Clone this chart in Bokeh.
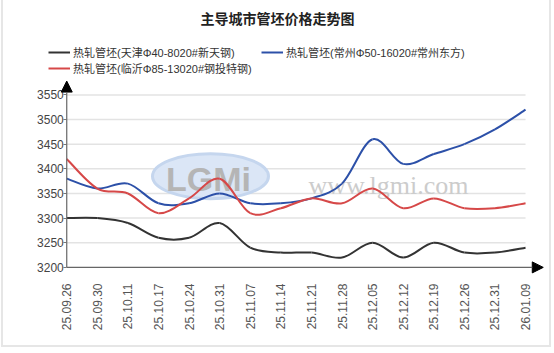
import numpy as np
from bokeh.plotting import figure
from bokeh.models import (ColumnDataSource, FixedTicker, Legend, LegendItem, Label,
                          Arrow, NormalHead, Range1d)
from bokeh.embed import file_html
from bokeh.resources import INLINE

# ---------------- data ----------------
dates = ["25.09.26", "25.09.30", "25.10.11", "25.10.17", "25.10.24", "25.10.31",
         "25.11.07", "25.11.14", "25.11.21", "25.11.28", "25.12.05", "25.12.12",
         "25.12.19", "25.12.26", "25.12.31", "26.01.09"]
tianjin = [3300, 3300, 3290, 3260, 3260, 3290, 3240, 3230, 3230, 3220, 3250, 3220,
           3250, 3230, 3230, 3240]
changzhou = [3380, 3360, 3370, 3330, 3330, 3350, 3330, 3330, 3340, 3370, 3460, 3410,
             3430, 3450, 3480, 3520]
linyi = [3420, 3360, 3350, 3310, 3340, 3380, 3310, 3320, 3340, 3330, 3360, 3320,
         3340, 3320, 3320, 3330]
y_ticks = [3200, 3250, 3300, 3350, 3400, 3450, 3500, 3550]
series_names = ["热轧管坯(天津Φ40-8020#新天钢)", "热轧管坯(常州Φ50-16020#常州东方)",
                "热轧管坯(临沂Φ85-13020#钢投特钢)"]
title_text = "主导城市管坯价格走势图"

LAT = "Liberation Sans"
MIX = "Liberation Sans, Noto Sans CJK SC"


def bezier_source(ys):
    n = len(ys)
    xs = list(range(n))
    d = dict(x0=[], y0=[], x1=[], y1=[], cx0=[], cy0=[], cx1=[], cy1=[])
    for i in range(n - 1):
        a = max(i - 1, 0)
        b = min(i + 2, n - 1)
        d["x0"].append(xs[i]); d["y0"].append(ys[i])
        d["x1"].append(xs[i + 1]); d["y1"].append(ys[i + 1])
        d["cx0"].append(xs[i] + (xs[i + 1] - xs[a]) / 6.0)
        d["cy0"].append(ys[i] + (ys[i + 1] - ys[a]) / 6.0)
        d["cx1"].append(xs[i + 1] - (xs[b] - xs[i]) / 6.0)
        d["cy1"].append(ys[i + 1] - (ys[b] - ys[i]) / 6.0)
    return ColumnDataSource(d)


n = len(dates)
# canvas starts at page (3,3) inside a light border; frame (page px): left 35, right 549,
# top 3, bottom 275
PXX = 30.35   # px per category
PXY = 0.4857  # px per price unit
FL, FB = 35, 275
x0r = -(66 - FL) / PXX
y0r = 3200 - (FB - 267) / PXY
p = figure(width=546, height=346, output_backend="svg", toolbar_location=None,
           title=None,
           x_range=Range1d(x0r, x0r + (549 - FL) / PXX),
           y_range=Range1d(y0r, y0r + (FB - 3) / PXY),
           min_border_left=FL - 3, min_border_right=0, min_border_top=0,
           min_border_bottom=349 - FB)
p.styles = {"margin": "-3px 1px 1px 1px", "border": "2px solid #e6e6e6",
            "box-sizing": "content-box"}
p.background_fill_color = "white"
p.border_fill_color = "white"
p.outline_line_color = None
p.xgrid.grid_line_color = None
p.ygrid.grid_line_color = None

# grid lines
grid_src = ColumnDataSource(dict(x0=[0] * (len(y_ticks) - 1), x1=[n - 1] * (len(y_ticks) - 1),
                                 y=y_ticks[1:]))
p.segment(x0="x0", x1="x1", y0="y", y1="y", source=grid_src, line_color="#e3e3e3",
          line_width=1.5, level="image")

# watermark
p.ellipse(x=[4.7], y=[3385], width=[116], height=[45], width_units="screen",
          height_units="screen", fill_color="#dbe6f6", line_color="#c5d6ee",
          line_width=3, level="image")
p.add_layout(Label(x=208 - FL, y=FB - 178, x_units="screen", y_units="screen", text="LGMi",
                   text_font=LAT, text_font_size="34px", text_font_style="bold",
                   text_color="#b5b5b5", text_align="center", text_baseline="middle",
                   level="underlay"))
p.add_layout(Label(x=388 - FL, y=FB - 185, x_units="screen", y_units="screen",
                   text="www.lgmi.com", text_font="Liberation Serif",
                   text_font_size="26px", text_color="#cccccc", text_align="center",
                   text_baseline="middle", level="underlay"))

colors = ["#333333", "#2c50a8", "#d64848"]
datas = [tianjin, changzhou, linyi]
items = []
for name, ys, c in zip(series_names, datas, colors):
    src = bezier_source(ys)
    p.bezier(x0="x0", y0="y0", x1="x1", y1="y1", cx0="cx0", cy0="cy0", cx1="cx1",
             cy1="cy1", source=src, line_color=c, line_width=2)
    dummy = p.line(x=[np.nan], y=[np.nan], line_color=c, line_width=2)
    items.append(LegendItem(label=name, renderers=[dummy]))

legend = Legend(items=items, location=(48 - FL, FB - 76), orientation="horizontal",
                ncols=2, label_text_font=MIX, label_text_font_size="11px",
                label_text_color="#333333", glyph_width=22, glyph_height=14,
                label_height=14, label_width=188, label_standoff=3, spacing=0,
                padding=0, margin=0, border_line_color=None, background_fill_alpha=0)
p.add_layout(legend, "center")

# title
p.add_layout(Label(x=277 - FL, y=FB - 17, x_units="screen", y_units="screen",
                   text=title_text, text_font="Noto Sans CJK SC", text_font_size="14px",
                   text_font_style="bold", text_color="#222222", text_align="center",
                   text_baseline="middle"))

# axes
p.xaxis.ticker = FixedTicker(ticks=list(range(n)))
p.xaxis.major_label_overrides = {i: d for i, d in enumerate(dates)}
p.xaxis.major_label_orientation = np.pi / 2
p.xaxis.axis_line_color = None
p.xaxis.major_tick_line_color = None
p.xaxis.minor_tick_line_color = None
p.xaxis.major_label_standoff = 2
p.xaxis.major_label_text_font = LAT
p.xaxis.major_label_text_font_size = "12px"
p.xaxis.major_label_text_color = "#555555"

p.yaxis.fixed_location = 0
p.yaxis.ticker = FixedTicker(ticks=y_ticks)
p.yaxis.axis_line_color = None
p.yaxis.major_tick_line_color = "#777777"
p.yaxis.major_tick_out = 3
p.yaxis.major_tick_in = 0
p.yaxis.minor_tick_line_color = None
p.yaxis.major_label_standoff = 0
p.yaxis.major_label_text_font = LAT
p.yaxis.major_label_text_font_size = "12px"
p.yaxis.major_label_text_color = "#444444"

p.add_layout(Arrow(x_start=0, y_start=3200, x_end=0, y_end=3578,
                   line_color="#666666", line_width=1.2,
                   end=NormalHead(size=11, fill_color="black", line_color="black")))
p.add_layout(Arrow(x_start=0, y_start=3200, x_end=15.58, y_end=3200,
                   line_color="#666666", line_width=1.2,
                   end=NormalHead(size=11, fill_color="black", line_color="black")))

open("out.html", "w").write(file_html(p, INLINE))
